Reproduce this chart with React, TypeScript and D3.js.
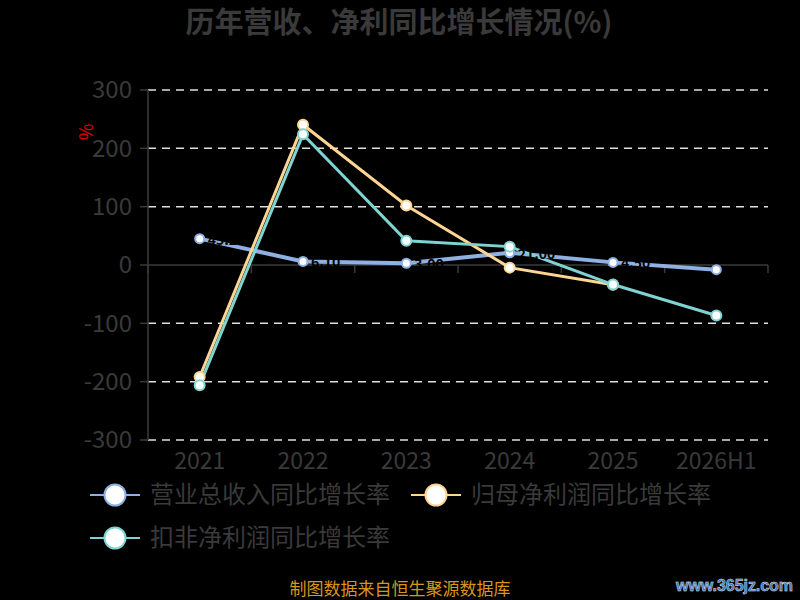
import { useEffect } from 'react'
import * as d3 from 'd3'

const years = ['2021', '2022', '2023', '2024', '2025', '2026H1']
const revenueGrowth = [45.2, 6.1, 3.0, 21.0, 4.5, -8.0]
const netProfitGrowth: (number | null)[] = [-192.0, 240.5, 102.0, -4.5, -34.0, null]
const deductedProfitGrowth = [-206.0, 224.0, 41.5, 31.5, -33.5, -86.5]
const yTicks = [300, 200, 100, 0, -100, -200, -300]

const seriesNames = ['营业总收入同比增长率', '归母净利润同比增长率', '扣非净利润同比增长率']
const seriesColors = ['#8eb0e3', '#ffd594', '#7fd4d2']

const width = 800
const height = 600
const margin = { top: 90, right: 32, bottom: 160, left: 148 }
const font = '"Noto Sans CJK SC", "Noto Sans", sans-serif'

export default function App() {
  useEffect(() => {
    document.body.style.margin = '0'
    document.body.style.background = '#000'
  }, [])

  const x = d3.scaleBand<string>()
    .domain(years)
    .range([margin.left, width - margin.right])

  const y = d3.scaleLinear()
    .domain([-300, 300])
    .range([height - margin.bottom, margin.top])

  const cx = (yr: string) => (x(yr) || 0) + x.bandwidth() / 2

  const series = [revenueGrowth, netProfitGrowth, deductedProfitGrowth]

  const line = d3.line<{ yr: string; v: number | null }>()
    .defined(d => d.v !== null)
    .x(d => cx(d.yr))
    .y(d => y(d.v as number))

  const textGrey = '#3a3a3a'

  return (
    <svg width={width} height={height} style={{ display: 'block', background: '#000' }}>
      <text x={399} y={33} textAnchor="middle" fontFamily={font} fontSize={29} fontWeight="bold" fill={textGrey}>
        历年营收、净利同比增长情况(%)
      </text>

      {/* grid */}
      {yTicks.filter(t => t !== 0).map(t => (
        <line key={t} x1={margin.left} x2={width - margin.right} y1={y(t)} y2={y(t)}
          stroke="#e0e0e0" strokeWidth={1.5} strokeDasharray="8,6" />
      ))}

      {/* y axis */}
      <line x1={margin.left} x2={margin.left} y1={y(300)} y2={y(-300)} stroke="#3a3a3a" strokeWidth={1.5} />
      {yTicks.map(t => (
        <g key={t}>
          <line x1={margin.left - 8} x2={margin.left} y1={y(t)} y2={y(t)} stroke="#3a3a3a" strokeWidth={1.5} />
          <text x={margin.left - 16} y={y(t)} dy="0.35em" textAnchor="end" fontFamily={font} fontSize={24} fill={textGrey}>
            {t}
          </text>
        </g>
      ))}
      <text transform={`translate(87,132) rotate(-90)`} textAnchor="middle" dy="0.35em"
        fontFamily={font} fontSize={18} fill="#e00000">%</text>

      {/* x axis at zero */}
      <line x1={margin.left} x2={width - margin.right} y1={y(0)} y2={y(0)} stroke="#3a3a3a" strokeWidth={1.5} />
      {years.concat(['end']).map((yr, i) => {
        const xx = margin.left + i * x.bandwidth()
        return <line key={yr} x1={xx} x2={xx} y1={y(0)} y2={y(0) + 8} stroke="#3a3a3a" strokeWidth={1.5} />
      })}
      {years.map(yr => (
        <text key={yr} x={cx(yr)} y={469} textAnchor="middle" fontFamily={font} fontSize={23} fill={textGrey}>
          {yr}
        </text>
      ))}

      {/* lines */}
      {series.map((vals, si) => (
        <path key={si}
          d={line(years.map((yr, i) => ({ yr, v: vals[i] }))) || ''}
          fill="none" stroke={seriesColors[si]} strokeWidth={si === 0 ? 4 : 3} />
      ))}

      {/* data labels of the revenue series (black on black) */}
      {revenueGrowth.map((v, i) => (
        <text key={i} x={cx(years[i]) + 8} y={y(v) + 1} dy="0.35em" fontFamily={font} fontSize={14}
          fontWeight="bold" fill="#000">
          {v.toFixed(2)}
        </text>
      ))}

      {/* markers */}
      {series.map((vals, si) => vals.map((v, i) => v === null ? null : (
        <circle key={`${si}-${i}`} cx={cx(years[i])} cy={y(v)} r={si === 0 ? 4.5 : 5}
          fill="#fff" stroke={seriesColors[si]} strokeWidth={2} />
      )))}

      {/* legend */}
      {seriesNames.map((name, i) => {
        const lx = i === 1 ? 411 : 90
        const ly = i === 2 ? 538 : 495
        return (
          <g key={name}>
            <line x1={lx} x2={lx + 50} y1={ly} y2={ly} stroke={seriesColors[i]} strokeWidth={2} />
            <circle cx={lx + 25} cy={ly} r={10.5} fill="#fff" stroke={seriesColors[i]} strokeWidth={2} />
            <text x={lx + 60} y={ly} dy="0.35em" fontFamily={font} fontSize={24} fill={textGrey}>{name}</text>
          </g>
        )
      })}

      <text x={400} y={595} textAnchor="middle" fontFamily={font} fontSize={17} fill="#d8961c">
        制图数据来自恒生聚源数据库
      </text>
      <text x={793} y={591} textAnchor="end" fontFamily='"Liberation Sans", sans-serif' fontSize={16}
        fontWeight="bold" fill="#3b6fb8" stroke="#dfe8f5" strokeWidth={0.5} textLength={117}>
        www.365jz.com
      </text>
    </svg>
  )
}
